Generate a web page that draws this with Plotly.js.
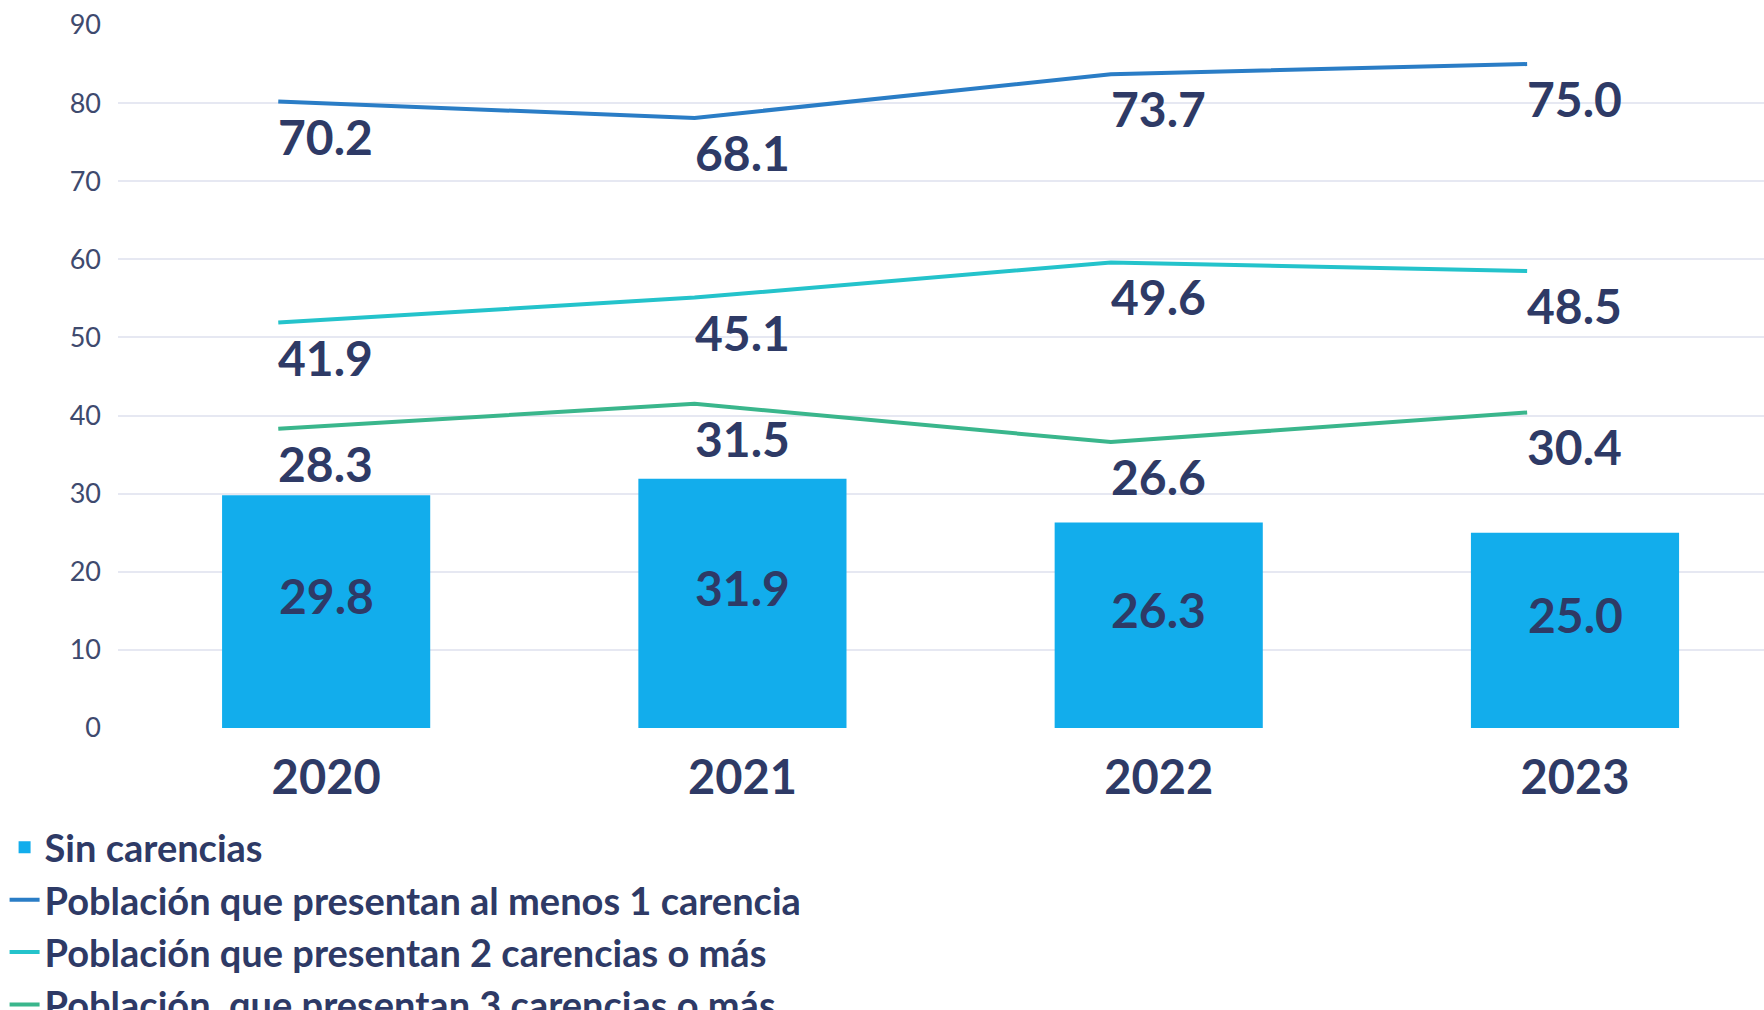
<!DOCTYPE html>
<html><head><meta charset="utf-8">
<script src="https://cdn.plot.ly/plotly-3.0.1.min.js"></script>
<style>html,body{margin:0;padding:0;background:#fff;overflow:hidden}#chart{width:1764px;height:1010px}</style>
</head><body><div id="chart"></div>
<script>
// ---- data ----
const years = ['2020', '2021', '2022', '2023'];
const sinCarencias = [29.8, 31.9, 26.3, 25.0];
const alMenos1Carencia = [70.2, 68.1, 73.7, 75.0];
const dosCarenciasOMas = [41.9, 45.1, 49.6, 48.5];
const tresCarenciasOMas = [28.3, 31.5, 26.6, 30.4];
const seriesNames = [
  'Sin carencias',
  'Población que presentan al menos 1 carencia',
  'Población que presentan 2 carencias o más',
  'Población\u00a0 que presentan 3 carencias o más'
];
const yTickValues = [0, 10, 20, 30, 40, 50, 60, 70, 80, 90];
// the source chart draws every line 10 points above its labelled value
const lineOffset = 10;

// ---- styles ----
const navy = '#2E3A66';
const tickGrey = '#3E4A6E';
const fontFam = 'Lato, "Open Sans", sans-serif';
const lineColors = ['#2A7DC6', '#24C3CB', '#3AB68C'];
function labelFont() { return {family: fontFam, size: 48, weight: 'bold', color: navy}; }

function lineTrace(vals, name, color) {
  return {
    type: 'scatter', mode: 'lines',
    x: years, y: vals.map(v => v + lineOffset),
    xaxis: 'x2', yaxis: 'y',
    name: name, legendgroup: name,
    line: {color: color, width: 4},
    cliponaxis: false,
    hoverinfo: 'skip'
  };
}

const traces = [
  {
    type: 'bar', x: years, y: sinCarencias, name: seriesNames[0], legendgroup: seriesNames[0],
    marker: {color: '#12ADEC', line: {width: 0}},
    hoverinfo: 'skip'
  },
  lineTrace(alMenos1Carencia, seriesNames[1], lineColors[0]),
  lineTrace(dosCarenciasOMas, seriesNames[2], lineColors[1]),
  lineTrace(tresCarenciasOMas, seriesNames[3], lineColors[2])
];

// value labels (x given as the category's index on the category axis)
const annotations = [];
sinCarencias.forEach((v, i) => {
  annotations.push({
    x: years.indexOf(years[i]), y: v / 2, xref: 'x', yref: 'y',
    text: v.toFixed(1), showarrow: false,
    xanchor: 'center', yanchor: 'middle', yshift: 16,
    font: labelFont()
  });
});
[alMenos1Carencia, dosCarenciasOMas, tresCarenciasOMas].forEach(series => {
  series.forEach((v, i) => {
    annotations.push({
      x: years.indexOf(years[i]), y: v + lineOffset, xref: 'x2', yref: 'y',
      text: v.toFixed(1), showarrow: false,
      xanchor: 'left', yanchor: 'top', yshift: -4, xshift: -2,
      font: labelFont()
    });
  });
});

const xRange = [-0.5, 3.454];
const lineShift = 0.115;

const layout = {
  width: 1764, height: 1010,
  paper_bgcolor: '#ffffff', plot_bgcolor: '#ffffff',
  margin: {l: 118, r: 0, t: 25, b: 282, pad: 0, autoexpand: false},
  bargap: 0.5,
  showlegend: true,
  legend: {
    xref: 'container', yref: 'container',
    x: 0.0026, y: 0.192, xanchor: 'left', yanchor: 'top',
    orientation: 'v', traceorder: 'normal',
    font: {family: fontFam, size: 38, weight: 'bold', color: navy},
    bgcolor: 'rgba(0,0,0,0)', borderwidth: 0,
    itemwidth: 30, tracegroupgap: 0
  },
  annotations: annotations,
  xaxis: {
    type: 'category', range: xRange,
    showgrid: false, zeroline: false, showline: false, ticks: '',
    tickfont: {family: fontFam, size: 47, weight: 'bold', color: navy},
    ticklabelstandoff: 18, fixedrange: true
  },
  xaxis2: {
    type: 'category', overlaying: 'x', anchor: 'y',
    range: [xRange[0] + lineShift, xRange[1] + lineShift],
    showgrid: false, zeroline: false, showline: false, ticks: '', showticklabels: false,
    fixedrange: true
  },
  yaxis: {
    range: [0, 90], tickvals: yTickValues,
    showgrid: true, gridcolor: '#E6E8F2', gridwidth: 2,
    zeroline: false, showline: false, ticks: '',
    tickfont: {family: fontFam, size: 27, color: tickGrey},
    ticklabelstandoff: 16, fixedrange: true
  },
  hovermode: false
};

Plotly.newPlot('chart', traces, layout, {displayModeBar: false, staticPlot: true});
</script>
</body></html>
